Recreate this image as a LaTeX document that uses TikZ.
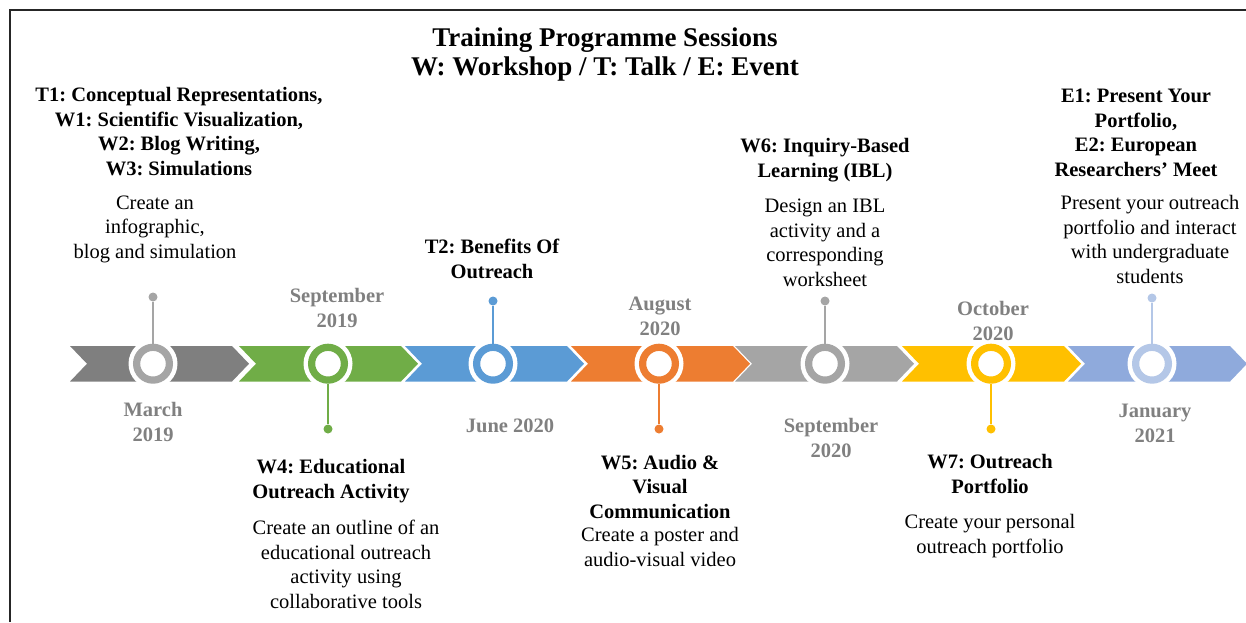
\documentclass[tikz,border=0pt]{standalone}
\usepackage{fontspec}
\setmainfont{Liberation Serif}
\frenchspacing
\definecolor{cA}{HTML}{7F7F7F}
\definecolor{rA}{HTML}{A5A5A5}
\definecolor{cB}{HTML}{70AD47}
\definecolor{cC}{HTML}{5B9BD5}
\definecolor{cD}{HTML}{ED7D31}
\definecolor{cE}{HTML}{A5A5A5}
\definecolor{cF}{HTML}{FFC000}
\definecolor{cG}{HTML}{8FAADC}
\definecolor{rG}{HTML}{B4C7E7}
\definecolor{dategray}{HTML}{808080}
\begin{document}
\begin{tikzpicture}[x=1pt,y=-1pt,
  body/.style={font=\fontsize{20.5}{24.5}\selectfont, align=center, anchor=base, inner sep=0pt},
  head/.style={body, font=\fontsize{20.5}{24.5}\selectfont\bfseries},
  datelbl/.style={head, text=dategray},
  halo/.style={circle, fill=white, minimum size=49pt, inner sep=0pt},
  ring/.style={circle, fill=white, draw=#1, line width=7.2pt, minimum size=32.8pt, inner sep=0pt},
  dot/.style={circle, fill=#1, minimum size=9pt, inner sep=0pt},
  stem/.style={line width=1.6pt, draw=#1},
]
\useasboundingbox (0,0) rectangle (1246,622);
% frame
\draw[line width=2pt, black!85] (10,622) -- (10,10) -- (1246,10);

% title (anchor base = last line)
\node[body, font=\fontsize{27}{29}\selectfont\bfseries] (title) at (605,75)
  {Training Programme Sessions\\W: Workshop / T: Talk / E: Event};

% chevrons
\foreach \L/\c in {70/cA,239/cB,405/cC,571/cD,735/cE,902/cF,1068/cG}
  \fill[\c] (\L,346) -- ++(162,0) -- ++(17,17.75) -- ++(-17,17.75) -- ++(-162,0) -- ++(17,-17.75) -- cycle;

% halos
\foreach \i/\x in {1/153,2/328,3/493,4/659,5/825,6/991,7/1152}
  \node[halo] (h\i) at (\x,363.7) {};

% dots
\node[dot=rA] (d1) at (153,297) {};
\node[dot=cB] (d2) at (328,429) {};
\node[dot=cC] (d3) at (493,301) {};
\node[dot=cD] (d4) at (659,429) {};
\node[dot=cE] (d5) at (825,301) {};
\node[dot=cF] (d6) at (991,429) {};
\node[dot=rG] (d7) at (1152,298) {};

% rings
\node[ring=rA] (c1) at (153,363.7) {};
\node[ring=cB] (c2) at (328,363.7) {};
\node[ring=cC] (c3) at (493,363.7) {};
\node[ring=cD] (c4) at (659,363.7) {};
\node[ring=cE] (c5) at (825,363.7) {};
\node[ring=cF] (c6) at (991,363.7) {};
\node[ring=rG] (c7) at (1152,363.7) {};

% stems
\draw[stem=rA] (c1) -- (d1);
\draw[stem=cB] (c2) -- (d2);
\draw[stem=cC] (c3) -- (d3);
\draw[stem=cD] (c4) -- (d4);
\draw[stem=cE] (c5) -- (d5);
\draw[stem=cF] (c6) -- (d6);
\draw[stem=rG] (c7) -- (d7);

% dates (anchor base = last line)
\node[datelbl] (m1) at (153,441) {March\\2019};
\node[datelbl] (m2) at (337,327) {September\\2019};
\node[datelbl] (m3) at (510,432) {June 2020};
\node[datelbl] (m4) at (660,335) {August\\2020};
\node[datelbl] (m5) at (831,457) {September\\2020};
\node[datelbl] (m6) at (993,340) {October\\2020};
\node[datelbl] (m7) at (1155,442) {January\\2021};

% session headings and descriptions
\node[head] (s1) at (179,175) {T1: Conceptual Representations,\\W1: Scientific Visualization,\\W2: Blog Writing,\\W3: Simulations};
\node[body] (p1) at (155,258) {Create an\\infographic,\\blog and simulation};

\node[head] (s2) at (331,498) {W4: Educational\\Outreach Activity};
\node[body] (p2) at (346,608) {Create an outline of an\\educational outreach\\activity using\\collaborative tools};

\node[head] (s3) at (492,278) {T2: Benefits Of\\Outreach};

\node[head] (s4) at (660,518) {W5: Audio \&\\Visual\\Communication};
\node[body] (p4) at (660,566) {Create a poster and\\audio-visual video};

\node[head] (s5) at (825,177) {W6: Inquiry-Based\\Learning (IBL)};
\node[body] (p5) at (825,286) {Design an IBL\\activity and a\\corresponding\\worksheet};

\node[head] (s6) at (990,493) {W7: Outreach\\Portfolio};
\node[body] (p6) at (990,553) {Create your personal\\outreach portfolio};

\node[head] (s7) at (1136,176) {E1: Present Your\\Portfolio,\\E2: European\\Researchers’ Meet};
\node[body] (p7) at (1150,283) {Present your outreach\\portfolio and interact\\with undergraduate\\students};
\end{tikzpicture}
\end{document}
